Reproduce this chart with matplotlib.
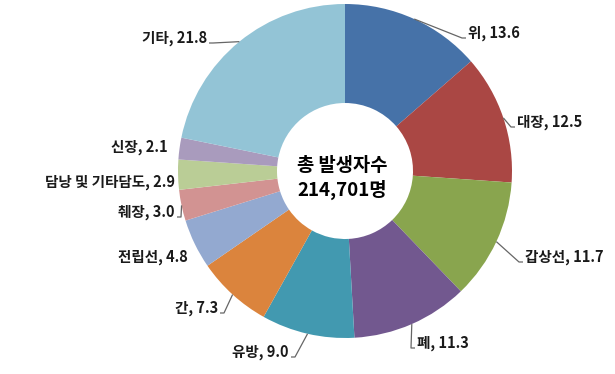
import numpy as np
import matplotlib
matplotlib.use("Agg")
import matplotlib.pyplot as plt

plt.rcParams['font.family'] = ['Noto Sans CJK KR', 'DejaVu Sans']

# ---- data ----
categories = ['위', '대장', '갑상선', '폐', '유방', '간', '전립선', '췌장',
              '담낭 및 기타담도', '신장', '기타']
values = [13.6, 12.5, 11.7, 11.3, 9.0, 7.3, 4.8, 3.0, 2.9, 2.1, 21.8]
center_title = '총 발생자수'
center_total = '214,701명'

# ---- styles / layout ----
colors = ['#4672A8', '#AA4744', '#89A54E', '#72588F', '#4299B0', '#DB843D',
          '#93A9D0', '#D29392', '#BACD96', '#A99BBD', '#93C4D6']
W, H = 615, 374
cx, cy_px = 345, 171
R = 167
hole = 68
# label text positions (pixels from top-left), ha, draw leader
label_layout = [
    (468, 33, 'left', True),
    (517, 122, 'left', True),
    (525, 257, 'left', True),
    (417, 343, 'left', True),
    (289, 352, 'right', True),
    (218, 308, 'right', True),
    (188, 257, 'right', False),
    (175, 212, 'right', True),
    (175, 182, 'right', False),
    (168, 147, 'right', False),
    (207, 38, 'right', True),
]

fig = plt.figure(figsize=(W / 100, H / 100), dpi=100)
ax = fig.add_axes([0, 0, 1, 1])
cy = H - cy_px

wedges, _ = ax.pie(values, colors=colors, startangle=90, counterclock=False,
                   center=(cx, cy), radius=R,
                   wedgeprops=dict(width=R - hole, linewidth=0))
ax.set_xlim(0, W)
ax.set_ylim(0, H)
ax.set_aspect('equal')
ax.axis('off')

for w, cat, val, (tx, ty, ha, lead) in zip(wedges, categories, values, label_layout):
    ang = np.deg2rad((w.theta1 + w.theta2) / 2)
    ax_x = cx + R * np.cos(ang)
    ax_y = cy + R * np.sin(ang)
    ax.text(tx, H - ty, f'{cat}, {val:.1f}', ha=ha, va='center',
            fontsize=10.5, fontweight='bold', color='#1a1a1a')
    if lead:
        if ha == 'left':
            ex = tx - 2
            elx = ex - 4
        else:
            ex = tx + 2
            elx = ex + 4
        ey = H - (ty + 5)
        ax.plot([ax_x, elx, ex], [ax_y, ey, ey], color='#666666', lw=0.9,
                solid_capstyle='butt')

ax.text(342, H - 165, center_title, ha='center', va='center',
        fontsize=13.5, fontweight='bold', color='black')
ax.text(342, H - 190, center_total, ha='center', va='center',
        fontsize=13.5, fontweight='bold', color='black')

fig.savefig('out.png', dpi=100)
